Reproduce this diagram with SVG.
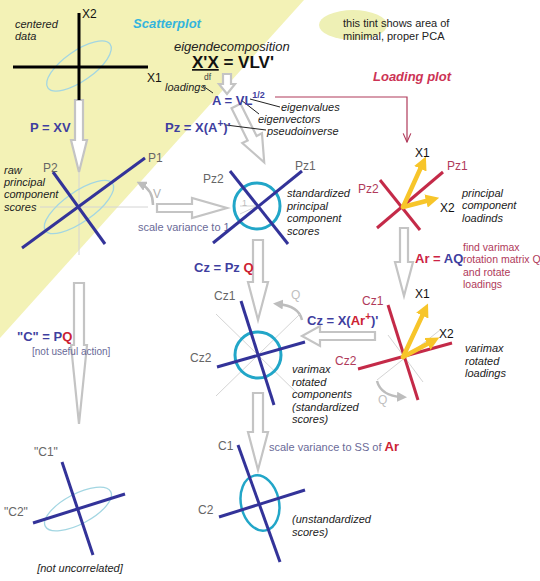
<svg xmlns="http://www.w3.org/2000/svg" width="540" height="581" viewBox="0 0 540 581">
<defs>
<style>
text{font-family:"Liberation Sans",Arial,sans-serif}
.it{font-style:italic;font-size:11px;fill:#222}
.lab{font-size:12px;fill:#666}
.labr{font-size:12px;fill:#b03a5a}
.labk{font-size:12px;fill:#111}
.bl{font-weight:bold;font-size:13px;fill:#3f3f9f}
.rd{font-weight:bold;fill:#cc2233}
.gp{font-size:11px;fill:#6a6a98}
.harrow{fill:#fff;stroke:#c4c4c4;stroke-width:2.2;stroke-linejoin:miter}
.ax{stroke:#333399;stroke-width:3;stroke-linecap:butt}
.rax{stroke:#c42a48;stroke-width:3}
.thin{stroke:#d4d4d4;stroke-width:1}
.cir{fill:none;stroke:#22a6c8;stroke-width:3}
.ell{fill:none;stroke:#a3d6e2;stroke-width:1.3}
.yarr{stroke:#f7c52a;stroke-width:4.5;fill:none;stroke-linecap:round}
.curv{fill:none;stroke:#bdbdbd;stroke-width:2.5}
.call{fill:none;stroke:#222;stroke-width:1}
.rt{font-size:10.5px;fill:#b03a5a}
</style>
<marker id="gh" viewBox="0 0 10 10" refX="5" refY="5" markerWidth="4" markerHeight="4" orient="auto"><path d="M0,0 L10,5 L0,10 z" fill="#bdbdbd"/></marker>
<marker id="yh" viewBox="0 0 10 10" refX="3" refY="5" markerWidth="3" markerHeight="3" orient="auto"><path d="M0,0 L10,5 L0,10 z" fill="#f7c52a"/></marker>
<marker id="rh" viewBox="0 0 10 10" refX="9" refY="5" markerWidth="8" markerHeight="8" orient="auto"><path d="M0,1 L9,5 L0,9" fill="none" stroke="#b03a5a" stroke-width="1.2"/></marker>
</defs>
<rect width="540" height="581" fill="#fff"/>
<polygon points="0,0 304,0 0,338" fill="#f3f2b6"/>
<ellipse cx="353" cy="25" rx="34" ry="15" fill="#eef0b5"/>
<text x="343" y="27" font-size="11" fill="#222">this tint shows area of</text>
<text x="343" y="40" font-size="11" fill="#222">minimal, proper PCA</text>

<g id="connectors">
<polygon class="harrow" points="75,100 83,100 83,140 87,140 79,172 71,140 75,140"/>
<polygon class="harrow" points="74,283 84,283 84,345 87,345 79,424 71,345 74,345"/>
<polygon class="harrow" points="223,74 231,74 231,84 235,84 227,94 219,84 223,84"/>
<polygon class="harrow" transform="translate(236,106) rotate(-26.6)" points="-5,0 5,0 5,36 11,36 0,63 -11,36 -5,36"/>
<polygon class="harrow" points="157,204 192,204 192,198 227,208 192,218 192,212 157,212"/>
<polygon class="harrow" points="253,240 263,240 263,282 268,282 258,320 248,282 253,282"/>
<polygon class="harrow" points="400,228 408,228 408,262 413,262 404,296 395,262 400,262"/>
<polygon class="harrow" points="375,332 320,332 320,326 302,336 320,346 320,340 375,340"/>
<polygon class="harrow" points="253,393 263,393 263,432 268,432 258,470 248,432 253,432"/>
<path d="M275,97 L407,97 L407,142" fill="none" stroke="#b03a5a" stroke-width="1.2" marker-end="url(#rh)"/>
<path class="curv" d="M153,205 Q153,190 141,184" marker-end="url(#gh)"/>
<path class="curv" d="M302,320 Q299,306 278,304" marker-end="url(#gh)"/>
<path class="curv" d="M377,381 Q381,396 402,397" marker-end="url(#gh)"/>
<path class="call" d="M203,86 L213,93"/>
<path class="call" d="M250,99 L280,107"/>
<path class="call" d="M241,100 L259,114"/>
<path class="call" d="M226,125 L266,130"/>
</g>

<g id="scatterplot">
<text class="it" x="15" y="28">centered</text>
<text class="it" x="15" y="40">data</text>
<ellipse class="ell" cx="79" cy="66" rx="38" ry="15" transform="rotate(-35 79 66)"/>
<line x1="13" y1="67" x2="148" y2="67" stroke="#000" stroke-width="3"/>
<line x1="79" y1="13" x2="79" y2="100" stroke="#000" stroke-width="3"/>
<text class="labk" x="82" y="18">X2</text>
<text class="labk" x="147" y="82">X1</text>
<text x="133" y="28" font-size="13" font-weight="bold" font-style="italic" fill="#33b5dd">Scatterplot</text>
</g>

<g id="eigen">
<text x="174" y="51" font-size="13" font-style="italic" fill="#222">eigendecomposition</text>
<text x="192" y="68" font-size="17" font-weight="bold" fill="#111"><tspan text-decoration="underline">X'X</tspan> = VLV'</text>
<text x="204" y="80" font-size="8.5" fill="#444">df</text>
<text class="it" x="165" y="91">loadings</text>
<text class="bl" x="212" y="105">A = VL<tspan font-size="9" dy="-7">1/2</tspan></text>
<text class="it" x="281" y="111">eigenvalues</text>
<text class="it" x="258" y="123">eigenvectors</text>
<text class="it" x="267" y="135">pseudoinverse</text>
<text class="bl" x="30" y="132">P = XV</text>
<text class="bl" x="165" y="132">Pz = X(A<tspan font-size="10" dy="-5">+</tspan><tspan dy="5">)'</tspan></text>
<text x="373" y="81" font-size="13" font-weight="bold" font-style="italic" fill="#cc3355">Loading plot</text>
</g>

<g id="P-plot">
<line class="thin" x1="40" y1="207" x2="148" y2="207"/>
<line class="thin" x1="79" y1="172" x2="79" y2="255"/>
<ellipse class="ell" cx="79" cy="207" rx="41" ry="15" transform="rotate(-35 79 207)"/>
<line class="ax" x1="22" y1="248" x2="145" y2="158"/>
<line class="ax" x1="53" y1="172" x2="105" y2="244"/>
<text class="lab" x="148" y="162">P1</text>
<text class="lab" x="43" y="172">P2</text>
<text class="it" x="4" y="174">raw</text>
<text class="it" x="4" y="186">principal</text>
<text class="it" x="4" y="198">component</text>
<text class="it" x="4" y="211">scores</text>
<text class="lab" x="153" y="198" style="fill:#b0b0b0">V</text>
<text class="gp" x="138" y="231">scale variance to 1</text>
</g>

<g id="Pz-plot">
<line class="thin" x1="240" y1="206" x2="257" y2="206"/>
<line class="thin" x1="240" y1="214" x2="257" y2="206"/>
<text x="242" y="206" font-size="9" fill="#bbb">1</text>
<circle class="cir" cx="257" cy="206" r="23"/>
<line class="ax" x1="213" y1="243" x2="302" y2="171"/>
<line class="ax" x1="230" y1="171" x2="288" y2="244"/>
<text class="lab" x="295" y="170">Pz1</text>
<text class="lab" x="203" y="183">Pz2</text>
<text class="it" x="287" y="197">standardized</text>
<text class="it" x="287" y="210">principal</text>
<text class="it" x="287" y="222">component</text>
<text class="it" x="287" y="235">scores</text>
<text class="bl" x="194" y="272">Cz = Pz<tspan class="rd"> Q</tspan></text>
</g>

<g id="loading-plot">
<line class="rax" x1="377" y1="228" x2="443" y2="172"/>
<line class="rax" x1="380" y1="180" x2="420" y2="230"/>
<line class="yarr" x1="403" y1="207" x2="422" y2="165" marker-end="url(#yh)"/>
<line class="yarr" x1="403" y1="207" x2="430" y2="200" marker-end="url(#yh)"/>
<text class="labk" x="415" y="157">X1</text>
<text class="labk" x="440" y="212">X2</text>
<text class="labr" x="447" y="170">Pz1</text>
<text class="labr" x="358" y="193">Pz2</text>
<text class="it" x="462" y="197">principal</text>
<text class="it" x="462" y="209">component</text>
<text class="it" x="462" y="222">loadinds</text>
<text x="415" y="263" font-size="13" font-weight="bold" fill="#cc2244">Ar = <tspan fill="#3f3f9f">AQ</tspan></text>
<text class="rt" x="463" y="251">find varimax</text>
<text class="rt" x="463" y="263">rotation matrix Q</text>
<text class="rt" x="463" y="276">and rotate</text>
<text class="rt" x="463" y="288">loadings</text>
</g>

<g id="varimax-loadings">
<line class="thin" x1="377" y1="380" x2="440" y2="330"/>
<line class="thin" x1="388" y1="335" x2="423" y2="382"/>
<line class="rax" x1="388" y1="305" x2="418" y2="400"/>
<line class="rax" x1="358" y1="369" x2="452" y2="343"/>
<line class="yarr" x1="403" y1="357" x2="424" y2="312" marker-end="url(#yh)"/>
<line class="yarr" x1="403" y1="357" x2="431" y2="342" marker-end="url(#yh)"/>
<text class="labk" x="415" y="298">X1</text>
<text class="labk" x="439" y="338">X2</text>
<text class="labr" x="362" y="305">Cz1</text>
<text class="labr" x="335" y="365">Cz2</text>
<text class="it" x="465" y="352">varimax</text>
<text class="it" x="465" y="365">rotated</text>
<text class="it" x="465" y="377">loadings</text>
<text class="lab" x="378" y="404" style="fill:#c0c0c0" font-size="10">Q</text>
</g>

<g id="Cz-plot">
<line class="thin" x1="216" y1="314" x2="300" y2="396"/>
<line class="thin" x1="300" y1="314" x2="216" y2="396"/>
<circle class="cir" cx="258" cy="355" r="23"/>
<line class="ax" x1="241" y1="301" x2="274" y2="405"/>
<line class="ax" x1="217" y1="367" x2="305" y2="342"/>
<text class="lab" x="214" y="300">Cz1</text>
<text class="lab" x="190" y="362">Cz2</text>
<text class="lab" x="291" y="299" style="fill:#c0c0c0" font-size="10">Q</text>
<text class="bl" x="307" y="325">Cz = X(<tspan fill="#cc2233">Ar<tspan font-size="10" dy="-5">+</tspan></tspan><tspan dy="5">)'</tspan></text>
<text class="it" x="292" y="373">varimax</text>
<text class="it" x="292" y="386">rotated</text>
<text class="it" x="292" y="398">components</text>
<text class="it" x="292" y="411">(standardized</text>
<text class="it" x="292" y="423">scores)</text>
</g>

<g id="C-plot">
<ellipse cx="260" cy="503" rx="19" ry="28" transform="rotate(-12 260 503)" class="cir" style="stroke-width:2.5"/>
<line class="ax" x1="238" y1="445" x2="280" y2="562"/>
<line class="ax" x1="219" y1="517" x2="305" y2="490"/>
<text class="lab" x="218" y="450">C1</text>
<text class="lab" x="198" y="514">C2</text>
<text class="gp" x="269" y="451">scale variance to SS of <tspan class="rd" font-size="13">Ar</tspan></text>
<text class="it" x="292" y="523">(unstandardized</text>
<text class="it" x="292" y="536">scores)</text>
</g>

<g id="quoted-C-plot">
<text class="bl" x="17" y="341">"C" = P<tspan class="rd">Q</tspan></text>
<text x="32" y="355" font-size="10" fill="#6a6a98">[not useful action]</text>
<ellipse class="ell" cx="78" cy="509" rx="37" ry="15" transform="rotate(-28 78 509)"/>
<line class="ax" x1="62" y1="462" x2="93" y2="555"/>
<line class="ax" x1="33" y1="523" x2="125" y2="494"/>
<text class="lab" x="34" y="456">"C1"</text>
<text class="lab" x="4" y="516">"C2"</text>
<text class="it" x="80" y="572" text-anchor="middle">[not uncorrelated]</text>
</g>
</svg>
